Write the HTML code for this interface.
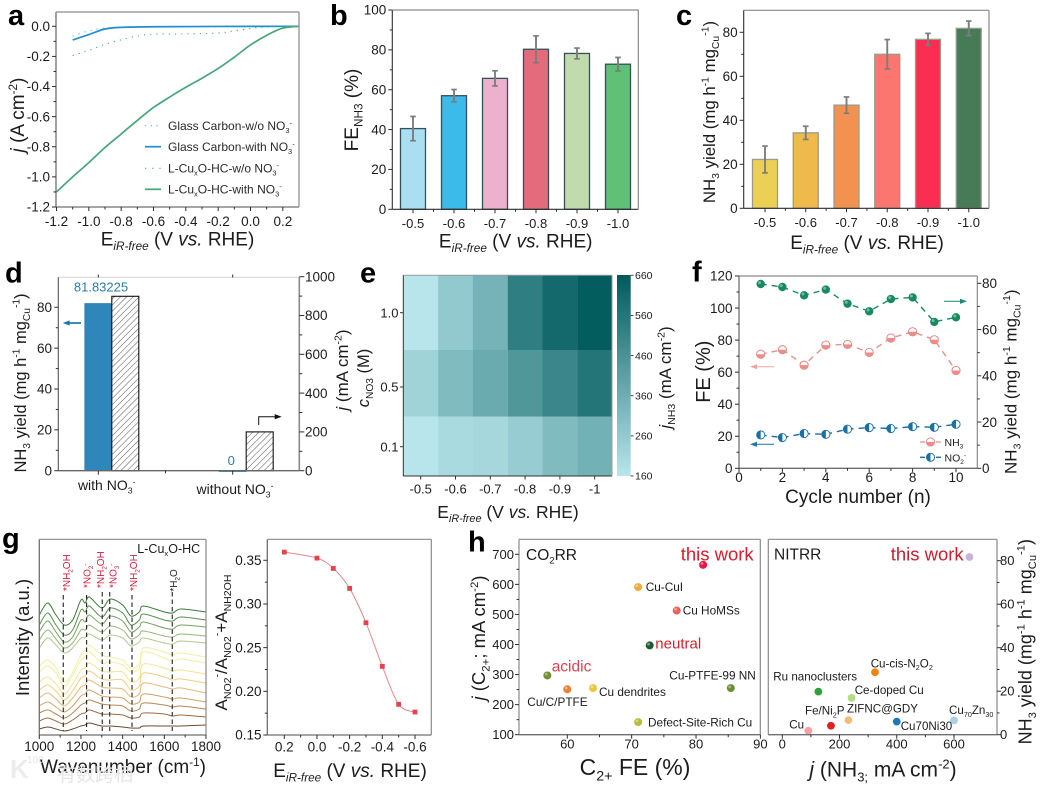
<!DOCTYPE html>
<html lang="en">
<head>
<meta charset="utf-8">
<title>Electrocatalysis multi-panel figure</title>
<style>
html,body{margin:0;padding:0;background:#fff;}
#figure{display:block;width:1040px;height:786px;font-family:"Liberation Sans","Noto Sans CJK SC",sans-serif;filter:blur(0.3px);}
</style>
</head>
<body>
<svg id="figure" xmlns="http://www.w3.org/2000/svg" width="1040" height="786" viewBox="0 0 1040 786">
  <defs>
    <pattern id="hatch" width="4.4" height="4.4" patternUnits="userSpaceOnUse" patternTransform="rotate(45)">
      <rect width="4.4" height="4.4" fill="#fff"/>
      <line x1="0" y1="0" x2="0" y2="4.4" stroke="#555" stroke-width="1"/>
    </pattern>
    <linearGradient id="cbar-gradient" x1="0" y1="0" x2="0" y2="1">
      <stop offset="0" stop-color="#005a5c"/>
      <stop offset="1" stop-color="#b8e6ec"/>
    </linearGradient>
  </defs>
  <rect width="1040" height="786" fill="#fff"/>
  <g id="panel-a"></g>
  <g id="panel-b"></g>
  <g id="panel-c"></g>
  <g id="panel-d"></g>
  <g id="panel-e"></g>
  <g id="panel-f"></g>
  <g id="panel-g1"></g>
  <g id="panel-g2"></g>
  <g id="panel-h1"></g>
  <g id="panel-h2"></g>
  <g id="watermark"></g>
</svg>
<script>
/* ---------- panel a data ---------- */
const aGreenE = [-1.2,-1.1,-1.0,-0.9,-0.8,-0.7,-0.6,-0.5,-0.4,-0.3,-0.2,-0.1,0,0.1,0.2,0.3];
const aGreenJ = [-1.1,-1.0,-0.905,-0.805,-0.715,-0.625,-0.539,-0.47,-0.405,-0.345,-0.28,-0.205,-0.124,-0.06,-0.012,0];
const aBlueE = [-1.1,-1.0,-0.9,-0.8,-0.6,-0.2,0.3];
const aBlueJ = [-0.091,-0.055,-0.018,-0.007,-0.003,-0.001,0];
const aBlueDotE = [-1.1,-1.0,-0.9,-0.7,-0.3,0.3];
const aBlueDotJ = [-0.065,-0.03,-0.012,-0.006,-0.003,0];
const aGreenDotE = [-1.1,-1.0,-0.9,-0.8,-0.7,-0.6,-0.4,-0.2,-0.1,0,0.1,0.3];
const aGreenDotJ = [-0.195,-0.16,-0.12,-0.09,-0.065,-0.052,-0.05,-0.045,-0.03,-0.015,-0.005,0];
const aXTicks = [-1.2,-1.0,-0.8,-0.6,-0.4,-0.2,0.0,0.2];
const aYTicks = [0.0,-0.2,-0.4,-0.6,-0.8,-1.0,-1.2];
const aLegend = ["Glass Carbon-w/o NO_{3}^{-}","Glass Carbon-with NO_{3}^{-}","L-Cu_{x}O-HC-w/o NO_{3}^{-}","L-Cu_{x}O-HC-with NO_{3}^{-}"];

/* ---------- panels b and c data ---------- */
const potentialLabels = ["-0.5","-0.6","-0.7","-0.8","-0.9","-1.0"];
const bValues = [40.5,57,65.7,80.3,78.2,72.8];
const bErrors = [6.1,3.1,3.8,6.7,2.7,3.4];
const bColors = ["#aadff2","#3bbbea","#eeb1cd","#e46b7c","#c2dbae","#5fc076"];
const bYTicks = [0,20,40,60,80,100];
const cValues = [22.2,34.3,46.9,70,76.8,81.8];
const cErrors = [6.1,3,3.7,6.7,2.7,3.3];
const cColors = ["#ecd056","#efb94c","#f39250","#fb766e","#fb2e52","#477a57"];
const cYTicks = [0,20,40,60,80];

/* ---------- panel d data ---------- */
const dCategories = ["with NO_{3}^{-}","without NO_{3}^{-}"];
const dYield = [81.83225,0];
const dYieldLabels = ["81.83225","0"];
const dCurrent = [899,200];
const dLeftTicks = [0,20,40,60,80];
const dRightTicks = [0,200,400,600,800,1000];

/* ---------- panel e data ---------- */
const ePotentials = ["-0.5","-0.6","-0.7","-0.8","-0.9","-1"];
const eConcentrations = ["1.0","0.5","0.1"];
const eRow10 = [163,263,342,532,605,652];
const eRow05 = [228,312,372,443,502,565];
const eRow01 = [163,203,212,250,312,350];
const eBarTicks = [160,260,360,460,560,660];

/* ---------- panel f data ---------- */
const fCycles = [1,2,3,4,5,6,7,8,9,10];
const fYield = [79.7,78.4,74.8,77.3,71.2,67.9,73.2,73.9,63.3,65.3];
const fFeNH3 = [71.2,74,64.4,76.9,77.3,72.3,81.3,85.2,80.2,61];
const fFeNO2 = [20.8,19.2,21.7,21.2,24.4,25.4,24.8,26,25.6,27.5];
const fXTicks = [0,2,4,6,8,10];
const fLeftTicks = [0,20,40,60,80,100,120];
const fRightTicks = [0,20,40,60,80];

/* ---------- panel g data ---------- */
const gWavenumbers = [1000,1040,1080,1120,1160,1200,1220,1240,1300,1340,1400,1440,1480,1500,1600,1640,1680,1800];
const gTrace01 = [120,132,120,110,115,135,132,138,127,136,130,119,123,129,123,122,126,123];
const gTrace02 = [110,122,110,100,105,125,123,129,118,127,122,110,115,121,115,114,118,115];
const gTrace03 = [103,114,103,93,98,115,113,120,111,119,114,103,108,113,107,106,110,108];
const gTrace04 = [95,105,96,87,92,105,105,110,103,109,105,96,100,104,99,98,101,99];
const gTrace05 = [87,97,90,82,87,97,97,101,95,100,97,89,93,97,92,91,94,92];
const gTrace06 = [69,75,67,53,63,80,85,90,80,78,75,67,71,87,83,80,82,78];
const gTrace07 = [63,69,62,49,60,75,78,83,72,73,70,63,67,83,77,74,76,72];
const gTrace08 = [53,58,51,41,51,65,67,72,64,63,63,53,57,71,67,64,65,61];
const gTrace09 = [45,50,44,35,44,57,59,64,56,55,55,45,49,62,58,55,56,52];
const gTrace10 = [37,42,36,29,37,48,50,55,48,47,46,38,41,52,48,46,47,42];
const gTrace11 = [29,33,28,23,29,39,41,45,39,38,37,31,33,41,38,36,37,33];
const gTrace12 = [22,25,21,17,22,30,32,35,31,30,29,24,26,32,30,28,29,26];
const gTrace13 = [14,17,14,11,15,21,22,25,21,21,20,17,18,22,21,19,20,18];
const gTrace14 = [6,8,6,4,6,9,10,12,9,9,8,7,7,9,9,9,9,10];
const gTraceColors = ["#3b7a3a","#5a8f4e","#77a163","#96b67a","#b2c98a","#eef0a8","#f4ee9f","#f6e295","#f0cf84","#e5b877","#d4a06a","#b88654","#9a6c42","#6e4b30"];
const gMarkers = [1115,1227,1302,1338,1445,1638];
const gMarkerLabels = ["*NH_{2}OH","*NO_{2}^{-}","*NH_{2}OH","*NO_{3}^{-}","*NH_{2}OH","*H_{2}O"];
const gXTicks = [1000,1200,1400,1600,1800];
const g2Potentials = [0.2,0,-0.1,-0.2,-0.3,-0.4,-0.5,-0.6];
const g2Ratios = [0.3594,0.3525,0.3407,0.3178,0.2785,0.2286,0.1851,0.1763];
const g2XTicks = [0.2,0,-0.2,-0.4,-0.6];
const g2YTicks = [0.15,0.20,0.25,0.30,0.35];

/* ---------- panel h data ---------- */
const h1Names = ["this work","Cu-CuI","Cu HoMSs","neutral","acidic","Cu/C/PTFE","Cu dendrites","Cu-PTFE-99 NN","Defect-Site-Rich Cu"];
const h1FE = [81.1,71,77,72.8,56.9,60,64,85.4,71];
const h1J = [665,591,513,397,297,251,255,255,142];
const h1Colors = ["#e8174a","#eeac3a","#ee5f58","#1f5a35","#6f8f32","#ee8033","#ecc63c","#6a8c34","#b7bb3c"];
const h1XTicks = [60,70,80,90];
const h1YTicks = [100,200,300,400,500,600,700];
const h2Names = ["this work","Cu-cis-N2O2","Ru nanoclusters","Ce-doped Cu","ZIFNC@GDY","Fe/Ni2P","Cu","Cu70Ni30","Cu70Zn30"];
const h2J = [654,324,126,242,231,170,91,400,600];
const h2Yield = [81.7,28.7,19.8,16.9,6.7,4.1,1.8,6,6.6];
const h2Colors = ["#c7b3dc","#f5820f","#2f9e3f","#b2de82","#f8bc78","#e3201f","#f8a0a6","#1f78b4","#a8d0e8"];
const h2XTicks = [0,200,400,600];
const h2YTicks = [0,20,40,60,80];

/* ---------- helpers ---------- */
const NS = "http://www.w3.org/2000/svg";
const DARK = "#2e2e2e", GREY = "#858585", TEXT = "#1c1c1c";

function linear(d0, d1, p0, p1) {
  return v => p0 + (v - d0) * (p1 - p0) / (d1 - d0);
}
function make(parent, tag, props, name, interactive) {
  const el = document.createElementNS(NS, tag);
  for (const k in props) el.setAttribute(k, props[k]);
  
  
  parent.appendChild(el);
  return el;
}
function rich(el, s, fs) {
  const re = /([_^~/])\{([^}]*)\}/g;
  let last = 0, cur = 0, m;
  const add = (str, size, offset, italic) => {
    if (!str) return;
    const t = document.createElementNS(NS, "tspan");
    t.setAttribute("font-size", size);
    if (offset !== cur) t.setAttribute("dy", offset - cur);
    if (italic) t.setAttribute("font-style", "italic");
    t.textContent = str;
    el.appendChild(t);
    cur = offset;
  };
  while ((m = re.exec(s))) {
    add(s.slice(last, m.index), fs, 0, false);
    if (m[1] === "_") add(m[2], fs * 0.62, fs * 0.24, false);
    if (m[1] === "^") add(m[2], fs * 0.62, -fs * 0.38, false);
    if (m[1] === "~") add(m[2], fs * 0.62, fs * 0.24, true);
    if (m[1] === "/") add(m[2], fs, 0, true);
    last = re.lastIndex;
  }
  add(s.slice(last), fs, 0, false);
}
function T(parent, x, y, s, o, name) {
  const size = o.size || 13;
  const props = {x: x, y: y, "font-size": size, fill: o.fill || TEXT, "text-anchor": o.anchor || "start"};
  if (o.weight) props["font-weight"] = o.weight;
  if (o.rot) props.transform = "rotate(" + o.rot + " " + x + " " + y + ")";
  const el = make(parent, "text", props, name, false);
  rich(el, s, size);
  return el;
}
function L(parent, x1, y1, x2, y2, stroke, w, name, extra) {
  const props = {x1: x1, y1: y1, x2: x2, y2: y2, stroke: stroke, "stroke-width": w};
  if (extra) for (const k in extra) props[k] = extra[k];
  return make(parent, "line", props, name, false);
}
function box(parent, x0, y0, x1, y1, near, far, w) {
  L(parent, x0, y1, x1, y1, near, w || 1.2, "x-axis-line");
  L(parent, x0, y0, x0, y1, near, w || 1.2, "y-axis-line");
  L(parent, x0, y0, x1, y0, far, 1.2, "top-border");
  L(parent, x1, y0, x1, y1, far, 1.2, "right-border");
}
function tickX(parent, xs, y, len, stroke, name) {
  xs.forEach(x => L(parent, x, y, x, y + len, stroke, 1, name));
}
function tickY(parent, ys, x, len, stroke, name) {
  ys.forEach(y => L(parent, x, y, x + len, y, stroke, 1, name));
}
function mids(values) {
  const r = [];
  for (let i = 0; i < values.length - 1; i++) r.push((values[i] + values[i + 1]) / 2);
  return r;
}
function smooth(xs, ys) {
  let d = "M" + xs[0].toFixed(2) + " " + ys[0].toFixed(2);
  for (let i = 0; i < xs.length - 1; i++) {
    const a = Math.max(0, i - 1), b = Math.min(xs.length - 1, i + 2);
    const c1x = xs[i] + (xs[i + 1] - xs[a]) / 6, c1y = ys[i] + (ys[i + 1] - ys[a]) / 6;
    const c2x = xs[i + 1] - (xs[b] - xs[i]) / 6, c2y = ys[i + 1] - (ys[b] - ys[i]) / 6;
    d += "C" + c1x.toFixed(2) + " " + c1y.toFixed(2) + " " + c2x.toFixed(2) + " " + c2y.toFixed(2) + " " + xs[i + 1].toFixed(2) + " " + ys[i + 1].toFixed(2);
  }
  return d;
}
function poly(xs, ys) {
  return xs.map((x, i) => (i ? "L" : "M") + x.toFixed(2) + " " + ys[i].toFixed(2)).join("");
}
function arrow(parent, d, tipX, tipY, dir, color, w, name) {
  make(parent, "path", {d: d, fill: "none", stroke: color, "stroke-width": w}, name, false);
  const pts = dir > 0
    ? (tipX - 7) + "," + (tipY - 2.6) + " " + tipX + "," + tipY + " " + (tipX - 7) + "," + (tipY + 2.6)
    : (tipX + 7) + "," + (tipY - 2.6) + " " + tipX + "," + tipY + " " + (tipX + 7) + "," + (tipY + 2.6);
  make(parent, "polygon", {points: pts, fill: color}, name + "-head", false);
}
function sphere(parent, x, y, r, color, name) {
  make(parent, "circle", {cx: x, cy: y, r: r, fill: color}, name, false);
  make(parent, "circle", {cx: x - r * 0.28, cy: y - r * 0.32, r: r * 0.36, fill: "#fff", opacity: 0.4}, name + "-highlight", false);
}
const EIR = "E~{iR-free} (V /{vs.} RHE)";
const byId = id => document.getElementById(id);

/* ---------- panel letters ---------- */
const root = byId("figure");
T(root, 8, 25, "a", {size: 29, weight: "bold", fill: "#000"}, "panel-label-a");
T(root, 330, 25, "b", {size: 29, weight: "bold", fill: "#000"}, "panel-label-b");
T(root, 676, 25, "c", {size: 29, weight: "bold", fill: "#000"}, "panel-label-c");
T(root, 5, 282.7, "d", {size: 29, weight: "bold", fill: "#000"}, "panel-label-d");
T(root, 360, 282.7, "e", {size: 29, weight: "bold", fill: "#000"}, "panel-label-e");
T(root, 692, 281.7, "f", {size: 29, weight: "bold", fill: "#000"}, "panel-label-f");
T(root, 2, 548, "g", {size: 29, weight: "bold", fill: "#000"}, "panel-label-g");
T(root, 468, 551.7, "h", {size: 29, weight: "bold", fill: "#000"}, "panel-label-h");

/* ---------- panel a ---------- */
(function () {
  const g = byId("panel-a");
  const x = linear(-1.2, 0.3, 56.5, 299), y = linear(0, -1.2, 26.3, 207);
  const dotted = {fill: "none", "stroke-width": 1.1, "stroke-dasharray": "1.2 5"};
  make(g, "path", Object.assign({d: smooth(aBlueDotE.map(x), aBlueDotJ.map(y)), stroke: "#5fb3d8"}, dotted), "line-glass-carbon-without-nitrate", false);
  make(g, "path", {d: smooth(aBlueE.map(x), aBlueJ.map(y)), fill: "none", stroke: "#1f8fd0", "stroke-width": 1.7}, "line-glass-carbon-with-nitrate", false);
  make(g, "path", Object.assign({d: smooth(aGreenDotE.map(x), aGreenDotJ.map(y)), stroke: "#4dae7a"}, dotted), "line-cuxo-without-nitrate", false);
  make(g, "path", {d: smooth(aGreenE.map(x), aGreenJ.map(y)), fill: "none", stroke: "#46a777", "stroke-width": 1.7}, "line-cuxo-with-nitrate", false);
  box(g, 56, 12, 299, 207, "#6f6f6f", "#8a8a8a", 1.3);
  tickX(g, aXTicks.map(x), 207, 4, DARK, "x-tick");
  tickX(g, mids(aXTicks).map(x), 207, 2.5, DARK, "x-minor-tick");
  tickY(g, aYTicks.map(y), 52, 4, DARK, "y-tick");
  tickY(g, mids(aYTicks).map(y), 53.5, 2.5, DARK, "y-minor-tick");
  aXTicks.forEach(v => T(g, x(v), 226, v.toFixed(1), {size: 13.5, anchor: "middle"}, "x-tick-label"));
  aYTicks.forEach(v => T(g, 50, y(v) + 4.7, v.toFixed(1), {size: 13.5, anchor: "end"}, "y-tick-label"));
  T(g, 177.5, 245.5, EIR, {size: 19, anchor: "middle"}, "x-axis-title");
  T(g, 24, 115, "/{j} (A cm^{-2})", {size: 19, anchor: "middle", rot: -90}, "y-axis-title");
  const ly = [125.7, 146.7, 168.3, 189.3], styles = [
    ["#5fb3d8", "1.2 4.5", 1.1], ["#1f8fd0", "", 1.7], ["#4dae7a", "1.2 6", 1.1], ["#46a777", "", 1.7]];
  aLegend.forEach((s, i) => {
    L(g, 145, ly[i], 161, ly[i], styles[i][0], styles[i][2], "legend-swatch", styles[i][1] ? {"stroke-dasharray": styles[i][1]} : null);
    T(g, 168, ly[i] + 4.3, s, {size: 12, fill: "#2a2a2a"}, "legend-entry");
  });
})();

/* ---------- bar panels b and c ---------- */
function barPanel(g, o) {
  const y = linear(0, o.yMax, o.y1, o.y0);
  const cx = i => o.first + i * o.step;
  o.values.forEach((v, i) => {
    make(g, "rect", {x: cx(i) - 12.5, y: y(v), width: 25, height: o.y1 - y(v), fill: o.colors[i], stroke: o.stroke, "stroke-width": 1.3}, "bar-" + potentialLabels[i], false);
  });
  o.errors.forEach((e, i) => {
    const v = o.values[i], c = cx(i);
    L(g, c, y(v + e), c, y(v - e), "#7d7d7d", 1.9, "error-bar");
    L(g, c - 2.8, y(v + e), c + 2.8, y(v + e), "#7d7d7d", 1.7, "error-cap");
    L(g, c - 2.8, y(v - e), c + 2.8, y(v - e), "#7d7d7d", 1.7, "error-cap");
  });
  box(g, o.x0, o.y0, o.x1, o.y1, DARK, "#8a8a8a", 1.1);
  tickX(g, potentialLabels.map((_, i) => cx(i)), o.y1, 4, DARK, "x-tick");
  tickX(g, potentialLabels.slice(1).map((_, i) => cx(i) + o.step / 2), o.y1, 2.5, DARK, "x-minor-tick");
  tickY(g, o.ticks.map(y), o.x0 - 4, 4, DARK, "y-tick");
  tickY(g, mids(o.ticks).map(y), o.x0 - 2.5, 2.5, DARK, "y-minor-tick");
  potentialLabels.forEach((s, i) => T(g, cx(i), o.y1 + 18.5, s, {size: 13, anchor: "middle"}, "x-tick-label"));
  o.ticks.forEach(v => T(g, o.x0 - 6, y(v) + 4.7, String(v), {size: 13.5, anchor: "end"}, "y-tick-label"));
}
barPanel(byId("panel-b"), {x0: 392.3, x1: 638.3, y0: 10, y1: 209.3, yMax: 100, first: 413, step: 41,
  values: bValues, errors: bErrors, colors: bColors, ticks: bYTicks, stroke: "#36505a"});
T(byId("panel-b"), 515.7, 247.5, EIR, {size: 19, anchor: "middle"}, "x-axis-title");
T(byId("panel-b"), 358, 110, "FE_{NH}_{3} (%)", {size: 19, anchor: "middle", rot: -90}, "y-axis-title");
barPanel(byId("panel-c"), {x0: 743.7, x1: 989, y0: 10.3, y1: 208.3, yMax: 90, first: 765, step: 40.75,
  values: cValues, errors: cErrors, colors: cColors, ticks: cYTicks, stroke: "#9b9b8c"});
T(byId("panel-c"), 867, 249, EIR, {size: 19, anchor: "middle"}, "x-axis-title");
T(byId("panel-c"), 715, 112, "NH_{3} yield (mg h^{-1} mg_{Cu}^{-1})", {size: 16.8, anchor: "middle", rot: -90}, "y-axis-title");

/* ---------- panel d ---------- */
(function () {
  const g = byId("panel-d");
  const yL = linear(0, 80, 470.7, 307.3), yR = linear(0, 1000, 470.7, 276.7);
  const cx = i => 98.3 + 134.4 * i, bw = 27;
  dYield.forEach((v, i) => {
    make(g, "rect", {x: cx(i) - bw / 2, y: yL(v), width: bw, height: Math.max(0.8, 470.7 - yL(v)), fill: "#2e86bb", stroke: "#2e7fb0", "stroke-width": 0.8}, "yield-bar", false);
    T(g, i ? cx(i) - 1.5 : cx(i) + 2.7, i ? 465 : 291.7, dYieldLabels[i], {size: 13, anchor: "middle", fill: "#2a7ca8"}, "yield-value-label");
  });
  dCurrent.forEach((v, i) => {
    make(g, "rect", {x: cx(i) + bw / 2, y: yR(v), width: bw, height: 470.7 - yR(v), fill: "url(#hatch)", stroke: "#111", "stroke-width": 1.1}, "current-bar", false);
  });
  L(g, 58.3, 277.3, 299.3, 277.3, "#d2d2d2", 1, "top-border");
  L(g, 58.3, 277.3, 58.3, 470.7, "#555", 1.1, "left-axis-line");
  L(g, 58.3, 470.7, 299.3, 470.7, "#666", 1.3, "x-axis-line");
  L(g, 299.3, 277.3, 299.3, 470.7, "#8a8a8a", 1.6, "right-axis-line");
  tickX(g, dCategories.map((_, i) => cx(i)), 470.7, 4, DARK, "x-tick");
  tickX(g, [(cx(0) + cx(1)) / 2], 470.7, 2.5, DARK, "x-minor-tick");
  tickX(g, dCategories.map((_, i) => cx(i)), 274.5, 3, DARK, "top-tick");
  tickY(g, dLeftTicks.map(yL), 54.3, 4, DARK, "left-tick");
  tickY(g, mids(dLeftTicks).map(yL), 55.8, 2.5, DARK, "left-minor-tick");
  tickY(g, dRightTicks.map(yR), 299.3, 5, DARK, "right-tick");
  tickY(g, mids(dRightTicks).map(yR), 299.3, 3, DARK, "right-minor-tick");
  dLeftTicks.forEach(v => T(g, 52, yL(v) + 4.7, String(v), {size: 13.5, anchor: "end"}, "left-tick-label"));
  dRightTicks.forEach(v => T(g, 305, yR(v) + 4.7, String(v), {size: 13.5}, "right-tick-label"));
  T(g, 106.7, 490, dCategories[0], {size: 14, anchor: "middle"}, "category-label");
  T(g, 235, 494, dCategories[1], {size: 14, anchor: "middle"}, "category-label");
  T(g, 26, 383, "NH_{3} yield (mg h^{-1} mg_{Cu}^{-1})", {size: 16.5, anchor: "middle", rot: -90}, "left-axis-title");
  T(g, 348, 370, "/{j} (mA cm^{-2})", {size: 17, anchor: "middle", rot: -90}, "right-axis-title");
  arrow(g, "M81 323L66 323", 62.7, 323, -1, "#1f77a8", 1.7, "left-axis-arrow");
  arrow(g, "M258.7 425L258.7 416.7L276 416.7", 281.7, 416.7, 1, "#111", 1, "right-axis-arrow");
})();

/* ---------- panel e ---------- */
(function () {
  const g = byId("panel-e");
  const cmap = v => {
    const t = (v - 160) / 500;
    const c = (a, b) => Math.round(a + (b - a) * t);
    return "rgb(" + c(184, 0) + "," + c(230, 90) + "," + c(236, 92) + ")";
  };
  const colEdge = i => 403.3 + 34.8 * i;
  const rowEdge = i => [275.3, 350, 416.7, 476][i];
  const rowTick = i => [312.7, 387, 446.7][i];
  [eRow10, eRow05, eRow01].forEach((row, r) => {
    row.forEach((v, c) => {
      make(g, "rect", {x: colEdge(c), y: rowEdge(r), width: 34.9, height: rowEdge(r + 1) - rowEdge(r) + 0.1, fill: cmap(v)}, "heatmap-cell", false);
    });
  });
  L(g, 403.3, 275.3, 612, 275.3, "#9a9a9a", 1, "top-border");
  L(g, 403.3, 275.3, 403.3, 476, "#333", 1, "y-axis-line");
  L(g, 403.3, 476, 612, 476, "#333", 1, "x-axis-line");
  L(g, 612, 275.3, 612, 476, "#9a9a9a", 1, "right-border");
  ePotentials.forEach((s, i) => {
    const cx = colEdge(i + 0.5);
    L(g, cx, 476, cx, 479.5, "#333", 1, "x-tick");
    T(g, cx, 493.5, s, {size: 13, anchor: "middle"}, "x-tick-label");
  });
  eConcentrations.forEach((s, i) => {
    L(g, 400, rowTick(i), 403.3, rowTick(i), "#333", 1, "y-tick");
    T(g, 398.5, rowTick(i) + 4.7, s, {size: 13, anchor: "end"}, "y-tick-label");
  });
  make(g, "rect", {x: 617, y: 275, width: 13.7, height: 201, fill: "url(#cbar-gradient)"}, "colorbar", false);
  const yb = linear(160, 660, 476, 275.3);
  eBarTicks.forEach(v => {
    L(g, 630.7, yb(v), 633.5, yb(v), "#333", 0.9, "colorbar-tick");
    T(g, 635, yb(v) + 3.7, String(v), {size: 10.5}, "colorbar-tick-label");
  });
  T(g, 671, 377.5, "/{j}_{NH}_{3} (mA cm^{-2})", {size: 17, anchor: "middle", rot: -90}, "colorbar-title");
  T(g, 369, 378, "/{c}_{NO}_{3} (M)", {size: 16.5, anchor: "middle", rot: -90}, "y-axis-title");
  T(g, 508, 518, EIR, {size: 17.5, anchor: "middle"}, "x-axis-title");
})();

/* ---------- panel f ---------- */
(function () {
  const g = byId("panel-f");
  const x = linear(0, 10, 739, 956), yL = linear(0, 120, 468.3, 276), yR = linear(0, 80, 468.3, 283.3);
  const dash = {fill: "none", "stroke-width": 1.4, "stroke-dasharray": "6 5"};
  make(g, "path", Object.assign({d: poly(fCycles.map(x), fYield.map(yR)), stroke: "#178a6a"}, dash), "yield-line", false);
  make(g, "path", Object.assign({d: poly(fCycles.map(x), fFeNH3.map(yL)), stroke: "#ea8f8d"}, dash), "fe-nh3-line", false);
  make(g, "path", Object.assign({d: poly(fCycles.map(x), fFeNO2.map(yL)), stroke: "#1a6fa3"}, dash), "fe-no2-line", false);
  const halfNH3 = (px, py, name) => {
    make(g, "circle", {cx: px, cy: py, r: 4.1, fill: "#fff", stroke: "#e87a7a", "stroke-width": 0.9}, name, false);
    make(g, "path", {d: "M" + (px - 4.1) + " " + py + "A4.1 4.1 0 0 0 " + (px + 4.1) + " " + py + "Z", fill: "#ee8c8a"}, name + "-half", false);
  };
  const halfNO2 = (px, py, name) => {
    make(g, "circle", {cx: px, cy: py, r: 4.1, fill: "#fff", stroke: "#1a6fa3", "stroke-width": 0.9}, name, false);
    make(g, "path", {d: "M" + px + " " + (py - 4.1) + "A4.1 4.1 0 0 0 " + px + " " + (py + 4.1) + "Z", fill: "#1a6fa3"}, name + "-half", false);
  };
  fCycles.forEach((c, i) => {
    sphere(g, x(c), yR(fYield[i]), 4.2, "#178a5e", "yield-point");
    halfNH3(x(c), yL(fFeNH3[i]), "fe-nh3-point");
    halfNO2(x(c), yL(fFeNO2[i]), "fe-no2-point");
  });
  box(g, 739, 276, 977.3, 468.3, "#6f6f6f", "#8a8a8a", 1.3);
  tickX(g, fXTicks.map(x), 468.3, 4, DARK, "x-tick");
  tickX(g, mids(fXTicks).map(x), 468.3, 2.5, DARK, "x-minor-tick");
  tickY(g, fLeftTicks.map(yL), 735, 4, DARK, "left-tick");
  tickY(g, mids(fLeftTicks).map(yL), 736.5, 2.5, DARK, "left-minor-tick");
  tickY(g, fRightTicks.map(yR), 977.3, 4, DARK, "right-tick");
  tickY(g, mids(fRightTicks).map(yR), 977.3, 2.5, DARK, "right-minor-tick");
  fXTicks.forEach(v => T(g, x(v), 482, String(v), {size: 13.5, anchor: "middle"}, "x-tick-label"));
  fLeftTicks.forEach(v => T(g, 732.5, yL(v) + 4.7, String(v), {size: 13.5, anchor: "end"}, "left-tick-label"));
  fRightTicks.forEach(v => T(g, 982, yR(v) + 4.7, String(v), {size: 13.5}, "right-tick-label"));
  T(g, 858, 503, "Cycle number (n)", {size: 19, anchor: "middle"}, "x-axis-title");
  T(g, 710, 371.7, "FE (%)", {size: 20, anchor: "middle", rot: -90}, "left-axis-title");
  T(g, 1016.5, 381.7, "NH_{3} yield (mg h^{-1} mg_{Cu}^{-1})", {size: 17, anchor: "middle", rot: -90}, "right-axis-title");
  arrow(g, "M774 366.7L754 366.7", 750, 366.7, -1, "#f0a5a0", 1, "fe-nh3-arrow");
  arrow(g, "M774 444.3L754 444.3", 750, 444.3, -1, "#1f77a8", 1, "fe-no2-arrow");
  arrow(g, "M944 301.3L963 301.3", 967, 301.3, 1, "#1a8a78", 1, "yield-arrow");
  L(g, 920, 442, 941, 442, "#ea8f8d", 1.3, "legend-swatch-nh3", {"stroke-dasharray": "5 11 5"});
  halfNH3(930.5, 442, "legend-marker-nh3");
  T(g, 944.5, 446, "NH_{3}", {size: 10.5}, "legend-entry-nh3");
  L(g, 920, 457.3, 941, 457.3, "#1a6fa3", 1.3, "legend-swatch-no2", {"stroke-dasharray": "5 11 5"});
  halfNO2(930.5, 457.3, "legend-marker-no2");
  T(g, 944.5, 461.3, "NO_{2}^{-}", {size: 10.5}, "legend-entry-no2");
})();

/* ---------- panel g spectra ---------- */
(function () {
  const g = byId("panel-g1");
  const x = linear(1000, 1800, 39.3, 206), y = linear(0, 100, 735, 635);
  const traces = [gTrace01, gTrace02, gTrace03, gTrace04, gTrace05, gTrace06, gTrace07, gTrace08, gTrace09, gTrace10, gTrace11, gTrace12, gTrace13, gTrace14];
  traces.forEach((t, i) => {
    make(g, "path", {d: smooth(gWavenumbers.map(x), t.map(y)), fill: "none", stroke: gTraceColors[i], "stroke-width": 1}, "spectrum-trace", false);
  });
  const tops = [595, 595, 592, 592, 595, 592];
  const baseX = [70, 90.7, 104, 116.7, 137, 177], baseY = [591, 588, 588, 588, 591, 591.6];
  gMarkers.forEach((w, i) => {
    L(g, x(w), tops[i], x(w), 731, "#222", 1.1, "peak-marker-line", {"stroke-dasharray": "4.5 3"});
    T(g, baseX[i], baseY[i], gMarkerLabels[i], {size: 10, fill: i === 5 ? "#222" : "#d4213d", rot: -90}, "peak-label");
  });
  box(g, 39.3, 539.3, 206, 735, "#6f6f6f", "#8a8a8a", 1.3);
  tickX(g, gXTicks.map(x), 735, 4, DARK, "x-tick");
  tickX(g, mids(gXTicks).map(x), 735, 2.5, DARK, "x-minor-tick");
  gXTicks.forEach(v => T(g, x(v), 751, String(v), {size: 13.5, anchor: "middle"}, "x-tick-label"));
  T(g, 137.3, 553, "L-Cu_{x}O-HC", {size: 12.5}, "sample-label");
  T(g, 29, 637.5, "Intensity (a.u.)", {size: 18.5, anchor: "middle", rot: -90}, "y-axis-title");
  T(g, 123, 773, "Wavenumber (cm^{-1})", {size: 19, anchor: "middle"}, "x-axis-title");
})();

/* ---------- panel g ratio ---------- */
(function () {
  const g = byId("panel-g2");
  const x = linear(0.2, -0.6, 284.3, 415), y = linear(0.15, 0.35, 735, 560.3);
  make(g, "path", {d: smooth(g2Potentials.map(x), g2Ratios.map(y)), fill: "none", stroke: "#e88a8a", "stroke-width": 1}, "ratio-curve", false);
  g2Potentials.forEach((p, i) => {
    make(g, "rect", {x: x(p) - 2.4, y: y(g2Ratios[i]) - 2.4, width: 4.8, height: 4.8, fill: "#e5424d"}, "ratio-point", false);
  });
  box(g, 267.3, 539.3, 431.3, 735, "#6f6f6f", "#8a8a8a", 1.3);
  tickX(g, g2XTicks.map(x), 735, 4, DARK, "x-tick");
  tickX(g, mids(g2XTicks).map(x), 735, 2.5, DARK, "x-minor-tick");
  tickY(g, g2YTicks.map(y), 263.3, 4, DARK, "y-tick");
  tickY(g, mids(g2YTicks).map(y), 264.8, 2.5, DARK, "y-minor-tick");
  g2XTicks.forEach(v => T(g, x(v), 751.7, v.toFixed(1), {size: 13.5, anchor: "middle"}, "x-tick-label"));
  g2YTicks.forEach(v => T(g, 261.5, y(v) + 4.7, v.toFixed(2), {size: 13.5, anchor: "end"}, "y-tick-label"));
  T(g, 350, 777, EIR, {size: 19, anchor: "middle"}, "x-axis-title");
  T(g, 227, 642.5, "A_{NO}_{2}^{-}/A_{NO}_{2}^{-}+A_{NH}_{2}_{OH}", {size: 17, anchor: "middle", rot: -90}, "y-axis-title");
})();

/* ---------- panel h left ---------- */
(function () {
  const g = byId("panel-h1");
  const x = linear(60, 90, 567.3, 760.4), y = linear(100, 700, 734.7, 554.3);
  h1Names.forEach((n, i) => sphere(g, x(h1FE[i]), y(h1J[i]), 4, h1Colors[i], "point-" + n.toLowerCase().replace(/[^a-z0-9]+/g, "-")));
  L(g, 519, 539.3, 519, 734.7, "#8a8a8a", 1.2, "y-axis-line");
  L(g, 519, 734.7, 760.3, 734.7, "#6f6f6f", 1.3, "x-axis-line");
  L(g, 519, 539.3, 760.3, 539.3, "#8a8a8a", 1.2, "top-border");
  L(g, 760.3, 539.3, 760.3, 734.7, "#8a8a8a", 1.2, "right-border");
  tickX(g, h1XTicks.map(x), 734.7, 4, DARK, "x-tick");
  tickX(g, mids(h1XTicks).map(x), 734.7, 2.5, DARK, "x-minor-tick");
  tickY(g, h1YTicks.map(y), 515, 4, DARK, "y-tick");
  tickY(g, mids(h1YTicks).map(y), 516.5, 2.5, DARK, "y-minor-tick");
  h1XTicks.forEach(v => T(g, x(v), 748.5, String(v), {size: 13, anchor: "middle"}, "x-tick-label"));
  h1YTicks.forEach(v => T(g, 514, y(v) + 4.5, String(v), {size: 13, anchor: "end"}, "y-tick-label"));
  T(g, 526, 560, "CO_{2}RR", {size: 15.5}, "condition-label");
  T(g, 680.7, 560.7, "this work", {size: 18.5, fill: "#e0192d"}, "this-work-label");
  T(g, 645.7, 591, "Cu-CuI", {size: 11.8}, "point-label");
  T(g, 682.7, 614.7, "Cu HoMSs", {size: 11.8}, "point-label");
  T(g, 655.3, 648.7, "neutral", {size: 15, fill: "#d81f2a"}, "neutral-label");
  T(g, 551.7, 671.7, "acidic", {size: 15.5, fill: "#e04050"}, "acidic-label");
  T(g, 669.3, 679.3, "Cu-PTFE-99 NN", {size: 11.8}, "point-label");
  T(g, 599, 696, "Cu dendrites", {size: 11.8}, "point-label");
  T(g, 527.3, 706, "Cu/C/PTFE", {size: 11.8}, "point-label");
  T(g, 648, 726.7, "Defect-Site-Rich Cu", {size: 11.8}, "point-label");
  T(g, 485, 638, "/{j} (C_{2+}; mA cm^{-2})", {size: 18.5, anchor: "middle", rot: -90}, "y-axis-title");
  T(g, 635, 775, "C_{2+} FE (%)", {size: 23, anchor: "middle"}, "x-axis-title");
})();

/* ---------- panel h right ---------- */
(function () {
  const g = byId("panel-h2");
  const x = linear(0, 600, 782.3, 954), y = linear(0, 80, 734.7, 560.7);
  h2Names.forEach((n, i) => {
    make(g, "circle", {cx: x(h2J[i]), cy: y(h2Yield[i]), r: 3.9, fill: h2Colors[i]}, "point-" + n.toLowerCase().replace(/[^a-z0-9]+/g, "-"), false);
  });
  L(g, 768.3, 539.3, 768.3, 734.7, "#8a8a8a", 1.2, "left-border");
  L(g, 768.3, 734.7, 997, 734.7, "#6f6f6f", 1.3, "x-axis-line");
  L(g, 768.3, 539.3, 997, 539.3, "#8a8a8a", 1.2, "top-border");
  L(g, 997, 539.3, 997, 734.7, "#8a8a8a", 1.2, "y-axis-line");
  tickX(g, h2XTicks.map(x), 734.7, 4, DARK, "x-tick");
  tickX(g, mids(h2XTicks).map(x), 734.7, 2.5, DARK, "x-minor-tick");
  tickY(g, h2YTicks.map(y), 997, 4, DARK, "y-tick");
  tickY(g, mids(h2YTicks).map(y), 997, 2.5, DARK, "y-minor-tick");
  h2XTicks.forEach(v => T(g, x(v), 748.5, String(v), {size: 13, anchor: "middle"}, "x-tick-label"));
  h2YTicks.forEach(v => T(g, 1000, y(v) + 4.5, String(v), {size: 13}, "y-tick-label"));
  T(g, 774, 559.3, "NITRR", {size: 15.5}, "condition-label");
  T(g, 890.7, 560.7, "this work", {size: 18.5, fill: "#c8202c"}, "this-work-label");
  T(g, 870.7, 667.3, "Cu-cis-N_{2}O_{2}", {size: 11.6}, "point-label");
  T(g, 773.3, 680.3, "Ru nanoclusters", {size: 11.6}, "point-label");
  T(g, 854.7, 694, "Ce-doped Cu", {size: 11.6}, "point-label");
  T(g, 805, 714.7, "Fe/Ni_{2}P", {size: 11.6}, "point-label");
  T(g, 847, 712.7, "ZIFNC@GDY", {size: 11.6}, "point-label");
  T(g, 949, 714, "Cu_{70}Zn_{30}", {size: 11.6}, "point-label");
  T(g, 789.3, 728.3, "Cu", {size: 11.6}, "point-label");
  T(g, 900.7, 730, "Cu70Ni30", {size: 11.6}, "point-label");
  T(g, 883, 776.7, "/{j} (NH_{3;} mA cm^{-2})", {size: 21, anchor: "middle"}, "x-axis-title");
  T(g, 1031.5, 641.7, "NH_{3} yield (mg^{-1} h^{-1} mg_{Cu}^{-1})", {size: 18, anchor: "middle", rot: -90}, "y-axis-title");
})();

/* ---------- watermark ---------- */
(function () {
  const g = byId("watermark");
  T(g, 10, 778, "K", {size: 26, fill: "#ececec", weight: "bold"}, "watermark-logo");
  T(g, 27, 763, "100", {size: 10, fill: "#e6e6e6"}, "watermark-logo-number");
  T(g, 57, 781, "有数跨栖", {size: 19, fill: "#e6e6e6"}, "watermark-text");
})();
</script>
</body>
</html>
